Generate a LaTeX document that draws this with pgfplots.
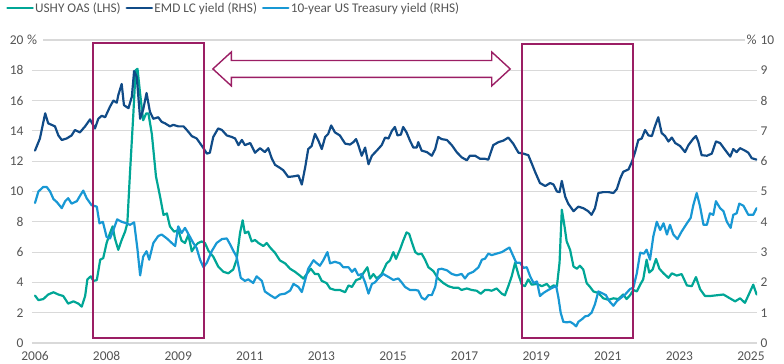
\documentclass[border=0pt]{standalone}
\usepackage{fontspec}
\setmainfont{Carlito}
\usepackage{pgfplots}
\pgfplotsset{compat=1.18}
\definecolor{teal1}{RGB}{0,166,150}
\definecolor{navy1}{RGB}{16,75,135}
\definecolor{sky1}{RGB}{24,152,212}
\definecolor{mag}{RGB}{155,30,100}
\definecolor{gridc}{RGB}{217,217,217}
\definecolor{txt}{RGB}{85,85,85}
\pgfplotsset{common/.style={
  scale only axis, width=725bp, height=303bp, at={(0,0)}, anchor=south west,
  xmin=2005.92, xmax=2025.16,
  axis line style={draw=none}, tick style={draw=none}, major tick length=0pt,
  tick label style={font=\fontsize{13.5}{16}\selectfont, text=txt},
  /pgf/number format/assume math mode=true,
  every axis plot/.append style={line width=2.2pt, line join=round, line cap=round},
}}
\begin{document}
\begin{tikzpicture}
\path[use as bounding box] (-32bp,-21bp) rectangle (752bp,343bp);
\begin{axis}[common, ymin=0, ymax=20, ytick={0,2,...,20},
  ymajorgrids, grid style={gridc, line width=1.1pt},
  xtick={2006,2007.9,2009.8,2011.7,2013.6,2015.5,2017.4,2019.3,2021.2,2023.1,2025},
  xticklabels={2006,2008,2009,2011,2013,2015,2017,2019,2021,2023,2025},
  xticklabel style={yshift=-5bp},
  yticklabel style={xshift=-5bp}]
\addplot[teal1] coordinates {(2006.00,3.13)(2006.09,2.83)(2006.22,2.9)(2006.35,3.2)(2006.49,3.35)(2006.62,3.2)(2006.75,3.1)(2006.88,2.6)(2007.02,2.75)(2007.15,2.6)(2007.24,2.4)(2007.33,3.1)(2007.39,4.2)(2007.48,4.4)(2007.55,4.1)(2007.64,4.15)(2007.73,5.5)(2007.81,5.6)(2007.90,6.6)(2007.99,7.25)(2008.06,7.7)(2008.12,6.9)(2008.21,6.15)(2008.30,6.8)(2008.39,7.35)(2008.45,7.9)(2008.52,11.2)(2008.61,15.15)(2008.67,18.0)(2008.72,18.1)(2008.79,16.45)(2008.87,14.7)(2008.95,15.15)(2009.01,15.15)(2009.10,13.8)(2009.21,11.0)(2009.32,9.65)(2009.41,8.45)(2009.50,8.55)(2009.58,7.7)(2009.69,7.35)(2009.80,7.45)(2009.89,6.75)(2009.98,6.6)(2010.07,7.15)(2010.16,6.05)(2010.25,6.4)(2010.33,6.6)(2010.42,6.7)(2010.51,6.6)(2010.60,6.1)(2010.73,5.7)(2010.86,5.05)(2011.00,4.7)(2011.13,4.6)(2011.26,4.85)(2011.35,5.5)(2011.44,7.25)(2011.51,8.1)(2011.57,7.25)(2011.66,7.35)(2011.75,6.7)(2011.84,6.8)(2011.93,6.6)(2012.06,6.4)(2012.15,6.6)(2012.24,6.3)(2012.37,5.95)(2012.50,5.45)(2012.64,5.25)(2012.77,4.9)(2012.90,4.7)(2013.03,4.45)(2013.12,4.25)(2013.21,4.55)(2013.32,4.9)(2013.43,4.55)(2013.52,4.55)(2013.61,4.1)(2013.74,3.95)(2013.83,3.6)(2013.96,3.5)(2014.09,3.5)(2014.23,3.35)(2014.32,3.8)(2014.41,3.7)(2014.52,4.15)(2014.63,4.25)(2014.71,4.6)(2014.82,5.0)(2014.89,4.25)(2014.98,4.55)(2015.07,4.25)(2015.20,4.55)(2015.33,5.25)(2015.42,5.45)(2015.51,6.0)(2015.58,5.55)(2015.69,6.2)(2015.77,6.75)(2015.86,7.3)(2015.93,7.2)(2016.00,6.65)(2016.09,6.0)(2016.17,5.85)(2016.26,5.9)(2016.35,5.5)(2016.44,5.0)(2016.57,4.75)(2016.70,4.25)(2016.84,3.95)(2016.97,3.75)(2017.10,3.65)(2017.23,3.65)(2017.32,3.5)(2017.46,3.6)(2017.59,3.5)(2017.72,3.45)(2017.83,3.25)(2017.94,3.5)(2018.03,3.5)(2018.12,3.45)(2018.25,3.6)(2018.39,3.25)(2018.47,3.15)(2018.56,3.75)(2018.65,4.4)(2018.74,5.3)(2018.83,4.5)(2018.92,3.85)(2019.00,3.75)(2019.09,4.2)(2019.18,3.85)(2019.32,3.9)(2019.45,3.75)(2019.58,3.9)(2019.67,3.65)(2019.76,3.8)(2019.85,3.75)(2019.92,5.3)(2019.98,8.8)(2020.04,7.9)(2020.11,6.7)(2020.20,6.15)(2020.29,5.05)(2020.38,4.9)(2020.46,5.1)(2020.55,4.85)(2020.64,3.95)(2020.73,3.7)(2020.82,3.4)(2020.95,3.3)(2021.08,2.95)(2021.22,2.85)(2021.35,2.95)(2021.48,2.9)(2021.61,3.2)(2021.70,2.9)(2021.79,3.15)(2021.88,3.5)(2021.97,3.4)(2022.06,3.85)(2022.14,4.2)(2022.23,5.5)(2022.30,4.65)(2022.39,4.85)(2022.48,5.55)(2022.57,4.9)(2022.68,4.6)(2022.81,4.3)(2022.90,4.6)(2023.03,4.45)(2023.16,4.55)(2023.30,3.8)(2023.43,3.75)(2023.54,4.35)(2023.65,3.55)(2023.78,3.1)(2023.91,3.1)(2024.09,3.15)(2024.27,3.2)(2024.44,2.95)(2024.58,2.75)(2024.71,2.95)(2024.84,2.65)(2024.96,3.3)(2025.06,3.85)(2025.15,3.2)};
\end{axis}
\begin{axis}[common, ymin=0, ymax=10, ytick={0,1,...,10}, yticklabel pos=right,
  xtick=\empty,
  legend columns=3,
  legend style={at={(-0.0359,1.1056)}, anchor=west, draw=none, fill=none, inner sep=0pt,
    font=\fontsize{13.3}{16}\selectfont, text=txt,
    nodes={inner xsep=1.2bp},
    /tikz/every even column/.append style={column sep=3.5bp}},
  legend image code/.code={\draw[#1, line width=2.8pt, line cap=round] (0bp,0bp) -- (25bp,0bp);}]
\addlegendimage{teal1}
\addlegendentry{USHY OAS (LHS)}
\addplot[navy1] coordinates {(2006.00,6.35)(2006.13,6.75)(2006.27,7.58)(2006.35,7.25)(2006.44,7.2)(2006.53,7.15)(2006.62,6.85)(2006.71,6.7)(2006.84,6.75)(2006.97,6.85)(2007.06,7.03)(2007.19,6.95)(2007.33,7.15)(2007.46,7.38)(2007.59,7.08)(2007.68,7.4)(2007.77,7.5)(2007.86,7.45)(2007.99,7.8)(2008.08,8.0)(2008.17,7.93)(2008.21,8.18)(2008.30,8.55)(2008.36,7.85)(2008.48,7.75)(2008.57,8.13)(2008.63,8.98)(2008.70,8.78)(2008.79,7.4)(2008.87,7.7)(2008.96,8.25)(2009.05,7.63)(2009.14,7.4)(2009.27,7.45)(2009.36,7.3)(2009.45,7.25)(2009.58,7.15)(2009.67,7.2)(2009.80,7.15)(2009.94,7.15)(2010.03,7.03)(2010.16,6.83)(2010.29,6.75)(2010.47,6.43)(2010.56,6.25)(2010.64,6.28)(2010.73,6.8)(2010.86,7.08)(2010.96,7.03)(2011.09,6.85)(2011.22,6.8)(2011.31,6.75)(2011.40,6.53)(2011.49,6.7)(2011.57,6.53)(2011.71,6.6)(2011.84,6.28)(2011.97,6.43)(2012.10,6.3)(2012.19,6.43)(2012.28,6.1)(2012.37,5.88)(2012.50,5.78)(2012.59,5.7)(2012.72,5.48)(2012.86,5.5)(2012.99,5.53)(2013.08,5.23)(2013.17,5.8)(2013.25,6.4)(2013.34,6.5)(2013.43,6.9)(2013.52,6.68)(2013.61,6.4)(2013.70,6.8)(2013.78,6.9)(2013.86,7.18)(2013.96,6.95)(2014.09,6.85)(2014.23,6.58)(2014.36,6.55)(2014.45,6.63)(2014.52,6.73)(2014.58,6.53)(2014.67,6.18)(2014.76,6.45)(2014.85,5.9)(2014.94,6.18)(2015.07,6.35)(2015.20,6.53)(2015.29,6.78)(2015.38,6.75)(2015.47,7.0)(2015.55,7.13)(2015.62,6.85)(2015.71,6.88)(2015.77,7.13)(2015.86,6.95)(2015.95,6.68)(2016.04,6.45)(2016.13,6.45)(2016.17,6.63)(2016.26,6.35)(2016.40,6.3)(2016.53,6.18)(2016.62,6.4)(2016.70,6.8)(2016.79,6.73)(2016.93,6.7)(2017.06,6.53)(2017.19,6.3)(2017.32,6.13)(2017.46,6.03)(2017.54,6.18)(2017.68,6.18)(2017.81,6.08)(2017.94,6.08)(2018.03,6.05)(2018.16,6.53)(2018.30,6.63)(2018.43,6.68)(2018.56,6.78)(2018.69,6.58)(2018.83,6.28)(2018.96,6.25)(2019.09,6.2)(2019.18,5.93)(2019.27,5.65)(2019.40,5.28)(2019.54,5.18)(2019.67,5.28)(2019.76,5.23)(2019.85,5.0)(2019.92,4.98)(2019.98,5.35)(2020.07,4.83)(2020.15,4.6)(2020.29,4.35)(2020.42,4.5)(2020.55,4.45)(2020.68,4.35)(2020.77,4.23)(2020.86,4.45)(2020.95,4.95)(2021.08,4.98)(2021.22,4.98)(2021.35,4.95)(2021.44,5.08)(2021.53,5.43)(2021.61,5.65)(2021.75,5.73)(2021.84,5.98)(2021.92,6.28)(2022.01,6.7)(2022.10,6.75)(2022.19,7.03)(2022.28,6.85)(2022.37,6.83)(2022.45,7.15)(2022.54,7.45)(2022.63,6.93)(2022.72,6.83)(2022.81,6.65)(2022.90,6.78)(2022.99,6.6)(2023.12,6.5)(2023.25,6.3)(2023.34,6.53)(2023.46,6.73)(2023.54,6.83)(2023.60,6.65)(2023.69,6.2)(2023.83,6.18)(2023.96,6.25)(2024.07,6.65)(2024.18,6.6)(2024.31,6.38)(2024.45,6.15)(2024.53,6.4)(2024.62,6.3)(2024.71,6.43)(2024.84,6.35)(2024.93,6.28)(2025.02,6.1)(2025.15,6.05)};
\addlegendentry{EMD LC yield (RHS)}
\addplot[sky1] coordinates {(2006.00,4.62)(2006.09,5.0)(2006.22,5.15)(2006.31,5.15)(2006.40,5.0)(2006.49,4.75)(2006.58,4.65)(2006.71,4.45)(2006.80,4.68)(2006.88,4.78)(2006.97,4.6)(2007.11,4.68)(2007.19,4.85)(2007.28,5.03)(2007.37,4.78)(2007.50,4.55)(2007.64,4.5)(2007.71,3.95)(2007.80,4.0)(2007.90,3.5)(2007.99,3.45)(2008.08,3.73)(2008.18,4.08)(2008.30,4.0)(2008.43,3.95)(2008.52,3.9)(2008.63,3.98)(2008.72,3.08)(2008.79,2.23)(2008.87,2.85)(2008.96,3.03)(2009.03,2.75)(2009.14,3.3)(2009.27,3.53)(2009.36,3.58)(2009.50,3.45)(2009.63,3.3)(2009.72,3.2)(2009.80,3.85)(2009.89,3.63)(2009.98,3.8)(2010.10,3.53)(2010.20,3.3)(2010.29,3.13)(2010.38,2.75)(2010.47,2.5)(2010.56,2.65)(2010.69,3.03)(2010.82,3.3)(2010.96,3.43)(2011.09,3.45)(2011.18,3.25)(2011.26,3.05)(2011.35,2.85)(2011.46,2.15)(2011.57,2.05)(2011.66,2.1)(2011.79,1.98)(2011.88,2.2)(2012.02,2.05)(2012.10,1.7)(2012.24,1.58)(2012.37,1.48)(2012.50,1.6)(2012.64,1.63)(2012.77,1.73)(2012.86,1.95)(2012.99,1.85)(2013.08,1.68)(2013.17,2.08)(2013.25,2.45)(2013.39,2.73)(2013.48,2.63)(2013.56,2.55)(2013.65,2.73)(2013.76,3.0)(2013.83,2.63)(2013.96,2.68)(2014.09,2.63)(2014.18,2.5)(2014.32,2.5)(2014.41,2.35)(2014.49,2.45)(2014.58,2.23)(2014.67,2.28)(2014.76,2.0)(2014.85,1.63)(2014.94,1.95)(2015.02,2.0)(2015.11,2.13)(2015.24,2.28)(2015.38,2.18)(2015.51,2.08)(2015.64,2.13)(2015.73,2.0)(2015.82,1.85)(2015.95,1.75)(2016.09,1.75)(2016.17,1.73)(2016.26,1.5)(2016.35,1.43)(2016.44,1.58)(2016.53,1.58)(2016.62,1.85)(2016.70,2.43)(2016.79,2.45)(2016.93,2.4)(2017.06,2.28)(2017.19,2.23)(2017.32,2.28)(2017.41,2.13)(2017.50,2.28)(2017.63,2.35)(2017.77,2.5)(2017.86,2.75)(2017.94,2.78)(2018.03,2.95)(2018.12,2.9)(2018.25,2.95)(2018.39,3.0)(2018.52,3.1)(2018.59,3.15)(2018.68,2.9)(2018.77,2.65)(2018.87,2.65)(2018.96,2.48)(2019.05,2.5)(2019.14,2.2)(2019.23,1.98)(2019.32,2.03)(2019.40,1.55)(2019.49,1.65)(2019.62,1.75)(2019.74,1.83)(2019.83,1.88)(2019.89,1.5)(2019.95,1.0)(2020.02,0.7)(2020.11,0.68)(2020.20,0.7)(2020.29,0.63)(2020.36,0.55)(2020.42,0.7)(2020.51,0.78)(2020.60,0.88)(2020.68,0.9)(2020.77,1.0)(2020.86,1.28)(2020.95,1.7)(2021.04,1.65)(2021.15,1.58)(2021.24,1.38)(2021.35,1.23)(2021.44,1.38)(2021.54,1.48)(2021.66,1.6)(2021.79,1.78)(2021.88,1.83)(2021.97,2.3)(2022.06,2.98)(2022.16,2.95)(2022.23,3.08)(2022.32,2.75)(2022.41,3.53)(2022.50,4.0)(2022.59,3.73)(2022.68,3.95)(2022.77,3.58)(2022.85,3.9)(2022.94,3.58)(2023.05,3.43)(2023.16,3.68)(2023.30,3.95)(2023.40,4.13)(2023.47,4.55)(2023.56,4.95)(2023.65,4.5)(2023.74,3.9)(2023.83,3.9)(2023.91,4.28)(2024.00,4.23)(2024.07,4.68)(2024.18,4.45)(2024.27,4.35)(2024.36,4.0)(2024.46,3.8)(2024.53,4.23)(2024.62,4.28)(2024.69,4.6)(2024.80,4.53)(2024.93,4.23)(2025.06,4.23)(2025.15,4.45)};
\addlegendentry{10-year US Treasury yield (RHS)}
\draw[mag, line width=1.6pt] (axis cs:2007.54,0.165) rectangle (axis cs:2010.49,9.91);
\draw[mag, line width=1.6pt] (axis cs:2018.92,0.165) rectangle (axis cs:2021.87,9.87);
\draw[mag, line width=1.4pt, fill=white, line join=miter]
  (axis cs:2010.72,9.045) -- (axis cs:2011.21,9.605) -- (axis cs:2011.21,9.325)
  -- (axis cs:2018.12,9.325) -- (axis cs:2018.12,9.605) -- (axis cs:2018.61,9.045)
  -- (axis cs:2018.12,8.485) -- (axis cs:2018.12,8.765) -- (axis cs:2011.21,8.765)
  -- (axis cs:2011.21,8.485) -- cycle;
\end{axis}
\fill[white] (-0.5bp,301bp) rectangle (11bp,305bp);
\fill[white] (713bp,301bp) rectangle (726bp,305bp);
\node[anchor=west, inner sep=0pt, font=\fontsize{14}{16}\selectfont, text=txt] at (-5bp,303bp) {\%};
\node[anchor=west, inner sep=0pt, font=\fontsize{14}{16}\selectfont, text=txt] at (714.5bp,303bp) {\%};
\end{tikzpicture}
\end{document}
